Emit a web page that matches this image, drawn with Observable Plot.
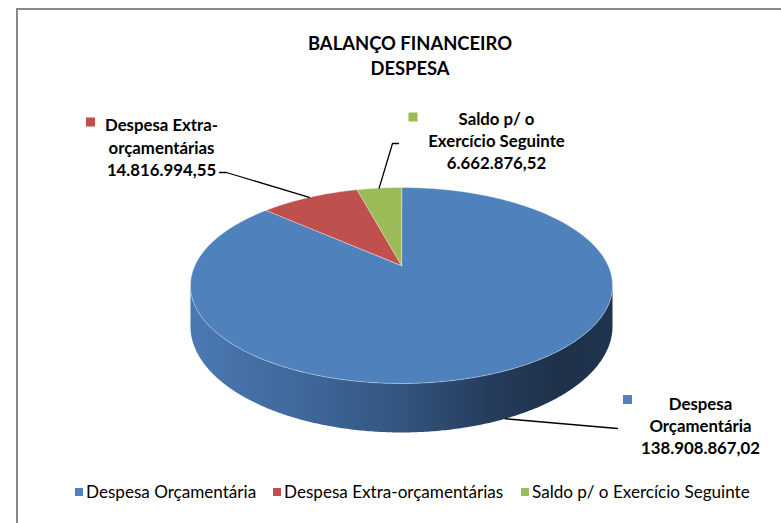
<!DOCTYPE html>
<html><head><meta charset="utf-8">
<script src="https://cdn.jsdelivr.net/npm/d3@7"></script>
<script src="https://cdn.jsdelivr.net/npm/@observablehq/plot@0.6"></script>
<style>
html,body{margin:0;padding:0;background:#fff;}
body{width:781px;height:523px;overflow:hidden;position:relative;font-family:Lato,"Open Sans",sans-serif;color:#000;}
#frame{position:absolute;left:16px;top:8px;width:820px;height:600px;border-left:2px solid #8a8a8a;border-top:2px solid #8a8a8a;box-sizing:border-box;}
#title{position:absolute;left:0;width:820px;top:31px;text-align:center;font-weight:bold;font-size:18.4px;line-height:25px;}
#chart{position:absolute;left:0;top:90px;}
#legend{position:absolute;left:0;top:482px;width:781px;height:24px;font-size:17.1px;}
.li{position:absolute;top:0;white-space:nowrap;line-height:20px;}
.sw{position:absolute;top:6px;width:8px;height:8px;}
</style></head>
<body>
<div id="frame"></div>
<div id="title">BALANÇO FINANCEIRO<br>DESPESA</div>
<div id="chart"></div>
<div id="legend"></div>
<script>
// ---- data ----
const categories = ["Despesa Orçamentária", "Despesa Extra-orçamentárias", "Saldo p/ o Exercício Seguinte"];
const values = [138908867.02, 14816994.55, 6662876.52];
const labelLines = [["Despesa", "Orçamentária"], ["Despesa Extra-", "orçamentárias"], ["Saldo p/ o", "Exercício Seguinte"]];
const colors = ["#4f81bd", "#c0504d", "#9bbb59"];

// ---- layout (page pixels) ----
const CX = 401, CY = 265, RX = 206.6, RY = 93.9, K = 0.204, DEPTH = 39, SVG_TOP = 90, W = 781, H = 375;
const labelLayout = [
  {textX: 700, textY: 424.5, keyX: 627, keyY: 399, path: [[617, 428]], rim: "bottom"},
  {textX: 161, textY: 146, keyX: 90, keyY: 121.5, path: [[219, 172], [226, 172]], rim: "top"},
  {textX: 496, textY: 139.5, keyX: 412.5, keyY: 116.5, path: [[398, 143], [392, 143]], rim: "top"}
];
const legendX = [75, 273, 521];

const fmt = new Intl.NumberFormat("pt-BR", {minimumFractionDigits: 2, maximumFractionDigits: 2});
const ux = px => (px - CX) / RX;
const uy = py => (py - CY) / RY;
const d = DEPTH / RY;

function proj(deg, r = 1, depth = 0) {
  const t = deg * Math.PI / 180;
  const u = r * Math.sin(t), v = -r * Math.cos(t);
  const f = 1 / (1 - K * v);
  return [u * f, (v + depth) * f];
}

const total = d3.sum(values);
let acc = 0;
const slices = values.map((v, i) => {
  const a0 = acc / total * 360; acc += v; const a1 = acc / total * 360;
  return {i, cat: categories[i], a0, a1, mid: (a0 + a1) / 2};
});

// top faces
const topPts = slices.flatMap(s => {
  const pts = [{slice: s.cat, X: 0, Y: 0}];
  const n = Math.max(2, Math.ceil((s.a1 - s.a0) * 2));
  for (let j = 0; j <= n; j++) {
    const [X, Y] = proj(s.a0 + (s.a1 - s.a0) * j / n);
    pts.push({slice: s.cat, X, Y});
  }
  return pts;
});

// side (front half of the cylinder)
const thA = Math.acos(-K) * 180 / Math.PI, thB = 360 - thA;
const sidePts = [];
for (let a = thA; a <= thB + 1e-9; a += 0.5) { const [X, Y] = proj(a); sidePts.push({X, Y}); }
for (let a = thB; a >= thA - 1e-9; a -= 0.5) { const [X, Y] = proj(a, 1, d); sidePts.push({X, Y}); }

// leaders
const leaderPts = slices.flatMap(s => {
  const L = labelLayout[s.i];
  const pts = L.path.map(([px, py]) => ({slice: s.cat, X: ux(px), Y: uy(py)}));
  const [X, Y] = proj(s.mid, 1, L.rim === "bottom" ? d : 0);
  pts.push({slice: s.cat, X, Y});
  return pts;
});

const keys = slices.map(s => ({slice: s.cat, X: ux(labelLayout[s.i].keyX), Y: uy(labelLayout[s.i].keyY)}));
const texts = slices.map(s => ({
  slice: s.cat, X: ux(labelLayout[s.i].textX), Y: uy(labelLayout[s.i].textY),
  text: [...labelLines[s.i], fmt.format(values[s.i])].join("\n")
}));

const gx0 = CX - RX * 1.03, gx1 = CX + RX * 1.03;
const defs = () => {
  const g = d3.create("svg:defs");
  const lg = g.append("linearGradient").attr("id", "sideGrad").attr("gradientUnits", "userSpaceOnUse")
    .attr("x1", gx0).attr("x2", gx1).attr("y1", 0).attr("y2", 0);
  [[0, "#4b79b3"], [0.25, "#40699c"], [0.5, "#33557f"], [0.72, "#243b5a"], [0.88, "#1e3149"], [1, "#20344f"]]
    .forEach(([o, c]) => lg.append("stop").attr("offset", o).attr("stop-color", c));
  return g.node();
};

const plot = Plot.plot({
  width: W, height: H,
  x: {domain: [-1, 1], range: [CX - RX, CX + RX], axis: null},
  y: {domain: [-1, 1], range: [CY - SVG_TOP - RY, CY - SVG_TOP + RY], axis: null},
  color: {domain: categories, range: colors},
  style: {fontFamily: "Lato, 'Open Sans', sans-serif", background: "transparent", overflow: "visible"},
  marks: [
    defs,
    Plot.line(sidePts, {x: "X", y: "Y", fill: "url(#sideGrad)", stroke: "none", curve: "linear-closed"}),
    Plot.line(topPts, {x: "X", y: "Y", z: "slice", fill: "slice", stroke: "#ffffff", strokeOpacity: 0.5, strokeWidth: 0.7, curve: "linear-closed"}),
    Plot.line(leaderPts, {x: "X", y: "Y", z: "slice", stroke: "#000", strokeWidth: 1.3}),
    Plot.dot(keys, {x: "X", y: "Y", fill: "slice", symbol: "square", r: 5.1, stroke: "none"}),
    Plot.text(texts, {x: "X", y: "Y", text: "text", fontWeight: "bold", fontSize: 16.8, lineHeight: 1.327, textAnchor: "middle", fill: "#000"})
  ]
});
document.getElementById("chart").append(plot);

// legend
const lg = document.getElementById("legend");
categories.forEach((c, i) => {
  const item = document.createElement("div");
  item.className = "li";
  item.style.left = legendX[i] + "px";
  item.innerHTML = `<span class="sw" style="left:0;background:${colors[i]}"></span><span style="margin-left:11px">${c}</span>`;
  lg.append(item);
});
</script>
</body></html>
